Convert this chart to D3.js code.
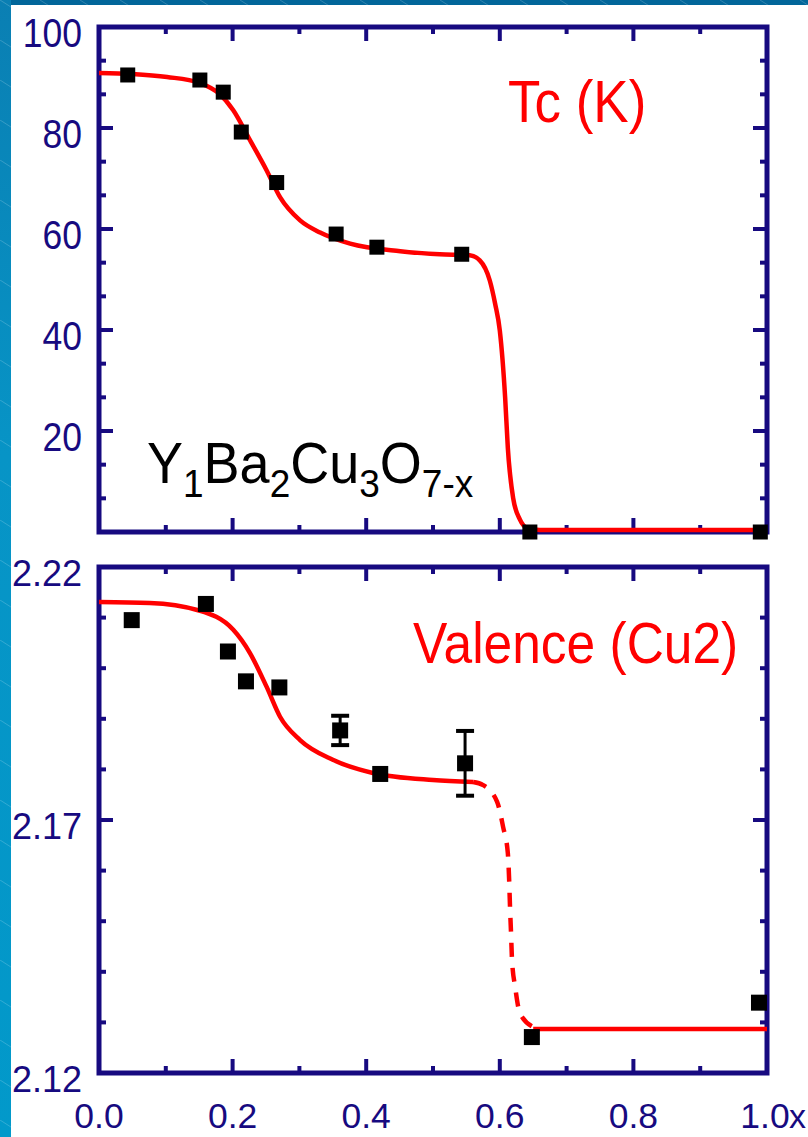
<!DOCTYPE html>
<html>
<head>
<meta charset="utf-8">
<script src="https://cdn.jsdelivr.net/npm/d3@7"></script>
<style>
  html, body { margin: 0; padding: 0; background: #fff; }
  svg { display: block; }
  text { font-family: "Liberation Sans", Arial, sans-serif; }
</style>
</head>
<body>
<svg id="chart" width="808" height="1137"></svg>
<script>
// ---------- data ----------
const xTickValues = [0, 0.2, 0.4, 0.6, 0.8, 1.0];
const xTickLabels = ["0.0", "0.2", "0.4", "0.6", "0.8", "1.0"];
const xAxisName = "x";

// Top panel: Tc (K)
const tcTickValues = [20, 40, 60, 80, 100];
const tcPointX = [0.043, 0.151, 0.186, 0.213, 0.266, 0.355, 0.416, 0.543, 0.645, 0.990];
const tcPointY = [90.5, 89.5, 87.1, 79.2, 69.2, 59.0, 56.4, 55.0, 0.0, 0.0];
const tcCurveX = [0, 0.05, 0.102, 0.151, 0.18, 0.201, 0.226, 0.251, 0.271, 0.301, 0.331, 0.376, 0.451, 0.51, 0.555, 0.57, 0.585, 0.593, 0.600, 0.608, 0.612, 0.620, 0.630, 0.641, 0.66, 1.0];
const tcCurveY = [90.9, 90.7, 90.1, 88.9, 86.8, 83.5, 77.6, 71.6, 66.3, 61.7, 59.3, 57.1, 55.6, 55.0, 54.8, 53.8, 49.8, 45.2, 39.9, 26.6, 16.7, 6.7, 2.5, 0.8, 0.4, 0.4];

// Bottom panel: Valence (Cu2)
const valTickValues = [2.12, 2.17, 2.22];
const valPointX = [0.049, 0.160, 0.193, 0.220, 0.270, 0.361, 0.421, 0.548, 0.648, 0.988];
const valPointY = [2.2095, 2.2127, 2.2033, 2.1974, 2.1962, 2.1877, 2.1791, 2.1812, 2.1271, 2.1339];
const valPointErr = [0, 0, 0, 0, 0, 0.0029, 0, 0.0064, 0, 0];
const valSolidX = [0, 0.076, 0.147, 0.201, 0.226, 0.251, 0.271, 0.301, 0.350, 0.410, 0.500, 0.560];
const valSolidY = [2.2131, 2.2129, 2.2115, 2.2076, 2.2030, 2.1963, 2.1904, 2.1858, 2.1819, 2.1793, 2.1779, 2.1775];
const valDashX = [0.560, 0.575, 0.596, 0.605, 0.612, 0.614, 0.6153, 0.6168, 0.6183, 0.623, 0.630, 0.650];
const valDashY = [2.1775, 2.1769, 2.1736, 2.1686, 2.1635, 2.1581, 2.1528, 2.1477, 2.1423, 2.1370, 2.1319, 2.1291];
const valFlatX = [0.650, 1.0];
const valFlatY = [2.1287, 2.1287];

// ---------- drawing ----------
const svg = d3.select("#chart");
const NAVY = "#170a80";
const RED = "#ff0000";

const defs = svg.append("defs");
const grad = defs.append("linearGradient").attr("id", "leftGrad").attr("x1", 0).attr("y1", 0).attr("x2", 0).attr("y2", 1);
grad.append("stop").attr("offset", "0%").attr("stop-color", "#0a7fb3");
grad.append("stop").attr("offset", "40%").attr("stop-color", "#0794c6");
grad.append("stop").attr("offset", "100%").attr("stop-color", "#0299ca");
const pat = defs.append("pattern").attr("id", "tex").attr("width", 40).attr("height", 40)
  .attr("patternUnits", "userSpaceOnUse");
pat.append("line").attr("x1", 0).attr("y1", 0).attr("x2", 14).attr("y2", 9)
  .attr("stroke", "rgba(255,255,255,0.18)").attr("stroke-width", 1);
pat.append("line").attr("x1", 20).attr("y1", 20).attr("x2", 34).attr("y2", 29)
  .attr("stroke", "rgba(255,255,255,0.12)").attr("stroke-width", 1);

svg.append("rect").attr("width", 808).attr("height", 1137).attr("fill", "#fff");
svg.append("rect").attr("x", 0).attr("y", 0).attr("width", 808).attr("height", 5).attr("fill", "#02669a");
svg.append("rect").attr("x", 0).attr("y", 0).attr("width", 808).attr("height", 5).attr("fill", "url(#tex)");
svg.append("rect").attr("x", 0).attr("y", 0).attr("width", 11).attr("height", 1137).attr("fill", "url(#leftGrad)");
svg.append("rect").attr("x", 0).attr("y", 0).attr("width", 11).attr("height", 1137).attr("fill", "url(#tex)");

const x = d3.scaleLinear().domain([0, 1]).range([99, 767]);
const yTc = d3.scaleLinear().domain([0, 100]).range([532, 27]);
const yVal = d3.scaleLinear().domain([2.12, 2.22]).range([1073, 567]);

function frameTicks(g, yScale, yMajors, yMinors, xMajors, xMinors) {
  const [y0, y1] = yScale.range();
  const [x0, x1] = x.range();
  const tk = g.append("g").attr("stroke", NAVY);
  const L = 14, S = 7;
  yMajors.forEach(v => {
    const yy = yScale(v);
    tk.append("line").attr("x1", x0).attr("x2", x0 + L).attr("y1", yy).attr("y2", yy).attr("stroke-width", 4);
    tk.append("line").attr("x1", x1).attr("x2", x1 - L).attr("y1", yy).attr("y2", yy).attr("stroke-width", 4);
  });
  yMinors.forEach(v => {
    const yy = yScale(v);
    tk.append("line").attr("x1", x0).attr("x2", x0 + S).attr("y1", yy).attr("y2", yy).attr("stroke-width", 4);
    tk.append("line").attr("x1", x1).attr("x2", x1 - S).attr("y1", yy).attr("y2", yy).attr("stroke-width", 4);
  });
  xMajors.forEach(v => {
    const xx = x(v);
    tk.append("line").attr("x1", xx).attr("x2", xx).attr("y1", y1).attr("y2", y1 + L).attr("stroke-width", 4);
    tk.append("line").attr("x1", xx).attr("x2", xx).attr("y1", y0).attr("y2", y0 - L).attr("stroke-width", 4);
  });
  xMinors.forEach(v => {
    const xx = x(v);
    tk.append("line").attr("x1", xx).attr("x2", xx).attr("y1", y1).attr("y2", y1 + S).attr("stroke-width", 4);
    tk.append("line").attr("x1", xx).attr("x2", xx).attr("y1", y0).attr("y2", y0 - S).attr("stroke-width", 4);
  });
  g.append("rect").attr("x", x0).attr("y", y1).attr("width", x1 - x0).attr("height", y0 - y1)
    .attr("fill", "none").attr("stroke", NAVY).attr("stroke-width", 5);
}

const xMaj = [0.2, 0.4, 0.6, 0.8];
const xMin = [0.1, 0.3, 0.5, 0.7, 0.9];

// ---- top panel ----
const gTop = svg.append("g");
const tcMinors = d3.range(0, 15).map(i => i * 20 / 3).filter((v, i) => i % 3 !== 0 && v > 0 && v < 100);
frameTicks(gTop, yTc, [20, 40, 60, 80], tcMinors, xMaj, xMin);

const lineTc = d3.line().x(d => x(d[0])).y(d => yTc(d[1])).curve(d3.curveMonotoneX);
gTop.append("path").datum(tcCurveX.map((v, i) => [v, tcCurveY[i]]))
  .attr("d", lineTc).attr("fill", "none").attr("stroke", RED).attr("stroke-width", 4.5);

gTop.selectAll("rect.pt").data(tcPointX.map((v, i) => [v, tcPointY[i]])).join("rect")
  .attr("class", "pt").attr("x", d => x(d[0]) - 7.5).attr("y", d => yTc(d[1]) - 7.5)
  .attr("width", 15).attr("height", 15).attr("fill", "#000");

gTop.selectAll("text.yl").data(tcTickValues).join("text")
  .attr("class", "yl")
  .attr("transform", d => `translate(82,${yTc(d) + 20}) scale(1,1.17)`)
  .attr("text-anchor", "end").attr("font-size", 35.5).attr("fill", NAVY)
  .text(d => d);

gTop.append("text").attr("transform", "translate(508,122) scale(1,1.12)")
  .attr("font-size", 53).attr("fill", RED).text("Tc (K)");

const formula = gTop.append("text").attr("transform", "translate(147,483) scale(1,1.05)")
  .attr("font-size", 54).attr("fill", "#000");
[["Y", false], ["1", true], ["Ba", false], ["2", true], ["Cu", false], ["3", true], ["O", false], ["7-x", true]]
  .forEach(([t, sub]) => {
    const ts = formula.append("tspan").text(t);
    if (sub) ts.attr("font-size", 37).attr("dy", 13);
    else ts.attr("dy", t === "Y" ? 0 : -13);
  });

// ---- bottom panel ----
const gBot = svg.append("g");
const valMinors = d3.range(1, 10).map(i => 2.12 + i * 0.01).filter((v, i) => i !== 4);
frameTicks(gBot, yVal, [2.17], valMinors, xMaj, xMin);

const lineVal = d3.line().x(d => x(d[0])).y(d => yVal(d[1])).curve(d3.curveMonotoneX);
gBot.append("path").datum(valSolidX.map((v, i) => [v, valSolidY[i]]))
  .attr("d", lineVal).attr("fill", "none").attr("stroke", RED).attr("stroke-width", 4.5);
gBot.append("path").datum(valDashX.map((v, i) => [v, valDashY[i]]))
  .attr("d", lineVal).attr("fill", "none").attr("stroke", RED).attr("stroke-width", 4.5)
  .attr("stroke-dasharray", "14,11");
gBot.append("path").datum(valFlatX.map((v, i) => [v, valFlatY[i]]))
  .attr("d", lineVal).attr("fill", "none").attr("stroke", RED).attr("stroke-width", 4.5);

const errData = valPointX.map((v, i) => ({ x: v, y: valPointY[i], e: valPointErr[i] })).filter(d => d.e > 0);
const eb = gBot.append("g").attr("stroke", "#000");
errData.forEach(d => {
  const xx = x(d.x);
  eb.append("line").attr("x1", xx).attr("x2", xx).attr("y1", yVal(d.y + d.e)).attr("y2", yVal(d.y - d.e)).attr("stroke-width", 3);
  eb.append("line").attr("x1", xx - 9).attr("x2", xx + 9).attr("y1", yVal(d.y + d.e)).attr("y2", yVal(d.y + d.e)).attr("stroke-width", 4);
  eb.append("line").attr("x1", xx - 9).attr("x2", xx + 9).attr("y1", yVal(d.y - d.e)).attr("y2", yVal(d.y - d.e)).attr("stroke-width", 4);
});

gBot.selectAll("rect.pt").data(valPointX.map((v, i) => [v, valPointY[i]])).join("rect")
  .attr("class", "pt").attr("x", d => x(d[0]) - 8).attr("y", d => yVal(d[1]) - 8)
  .attr("width", 16).attr("height", 16).attr("fill", "#000");

gBot.selectAll("text.yl").data(valTickValues).join("text")
  .attr("class", "yl")
  .attr("x", 82).attr("y", d => yVal(d) + 19)
  .attr("text-anchor", "end").attr("font-size", 36).attr("fill", NAVY)
  .text(d => d.toFixed(2));

gBot.append("text").attr("transform", "translate(413,663) scale(1,1.12)")
  .attr("font-size", 51.5).attr("fill", RED).text("Valence (Cu2)");

gBot.selectAll("text.xl").data(xTickValues).join("text")
  .attr("class", "xl")
  .attr("x", d => x(d) - (d === 1 ? 2 : 0)).attr("y", 1128)
  .attr("text-anchor", "middle").attr("font-size", 35.5).attr("fill", NAVY)
  .text((d, i) => xTickLabels[i]);
gBot.append("text").attr("x", 806).attr("y", 1128).attr("text-anchor", "end")
  .attr("font-size", 34).attr("fill", NAVY).text(xAxisName);
</script>
</body>
</html>
